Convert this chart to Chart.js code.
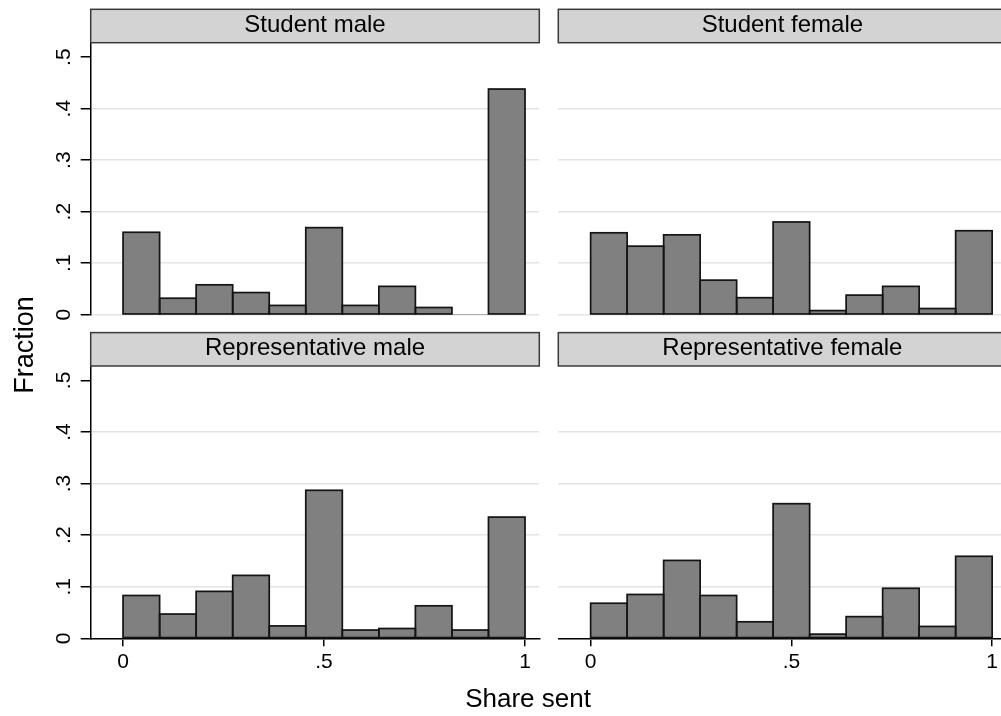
<!DOCTYPE html>
<html>
<head>
<meta charset="utf-8">
<script src="https://cdn.jsdelivr.net/npm/chart.js@4.4.1/dist/chart.umd.min.js"></script>
<style>
  body { margin: 0; background: #fff; }
  #wrap { position: relative; width: 1001px; height: 716px; overflow: hidden; background: #fff; }
  #wrap canvas { position: absolute; left: 0; top: 0; }
</style>
</head>
<body>
<div id="wrap">
  <canvas id="c1" width="1001" height="716"></canvas>
  <canvas id="c2" width="1001" height="716"></canvas>
  <canvas id="c3" width="1001" height="716"></canvas>
  <canvas id="c4" width="1001" height="716"></canvas>
</div>
<script>
// histogram bins (11 bins over 0..1), centers
const binCenters = [0.0455, 0.1364, 0.2273, 0.3182, 0.4091, 0.5000, 0.5909, 0.6818, 0.7727, 0.8636, 0.9545];

// fractions per bin
const studentMale   = [0.160, 0.032, 0.058, 0.043, 0.018, 0.169, 0.018, 0.055, 0.014, 0, 0.438];
const studentFemale = [0.159, 0.133, 0.155, 0.067, 0.033, 0.180, 0.008, 0.038, 0.055, 0.012, 0.163];
const repMale       = [0.083, 0.047, 0.091, 0.122, 0.024, 0.287, 0.016, 0.019, 0.063, 0.016, 0.235];
const repFemale     = [0.068, 0.085, 0.151, 0.083, 0.032, 0.261, 0.008, 0.042, 0.097, 0.023, 0.159];

const panelTitles = ['Student male', 'Student female', 'Representative male', 'Representative female'];
const yTicks = [0, 0.1, 0.2, 0.3, 0.4, 0.5];
const xTicks = [0, 0.5, 1];

const yMax = 0.528;
const xMin = -0.0805;
const xMax = 1.0355;      // full panel width
const xMaxCut = 1.022;    // right column is cut by the image edge

const FONT = '"Liberation Sans", Arial, Helvetica, sans-serif';
const STRIP_H = 33.4;

// Stata style labels: .5 instead of 0.5
function fmt(v) {
    return String(v).replace(/^0\./, '.');
}

const panelPlugin = {
    id: 'panel',
    afterDatasetsDraw(chart) {
        // bar outlines, centred on the bar edges like Stata
        const ctx = chart.ctx;
        const pts = chart.data.datasets[0].data;
        ctx.save();
        ctx.strokeStyle = '#141414';
        ctx.lineWidth = 1.7;
        chart.getDatasetMeta(0).data.forEach((bar, i) => {
            if (!pts[i].y) return;
            const p = bar.getProps(['x', 'y', 'base', 'width'], true);
            ctx.strokeRect(p.x - p.width / 2, p.y, p.width, p.base - p.y);
        });
        ctx.restore();
    },
    afterDraw(chart, args, opts) {
        const ctx = chart.ctx;
        const a = chart.chartArea;
        const xs = chart.scales.x;
        const ys = chart.scales.y;

        // strip with panel title
        ctx.save();
        const top = a.top - STRIP_H;
        const w = (a.right - a.left) + (opts.cut ? 10 : 0);
        ctx.fillStyle = '#d3d3d3';
        ctx.fillRect(a.left, top, w, STRIP_H);
        ctx.strokeStyle = '#3a3a3a';
        ctx.lineWidth = 1.5;
        ctx.strokeRect(a.left, top, w, STRIP_H);
        ctx.fillStyle = '#000';
        ctx.font = '24px ' + FONT;
        ctx.textAlign = 'center';
        ctx.textBaseline = 'alphabetic';
        ctx.fillText(opts.title, xs.getPixelForValue((xMin + xMax) / 2), a.top - 11);

        // rotated y tick labels
        if (opts.yLabels) {
            ctx.font = '21px ' + FONT;
            yTicks.forEach(v => {
                ctx.save();
                ctx.translate(70, ys.getPixelForValue(v));
                ctx.rotate(-Math.PI / 2);
                ctx.fillText(fmt(v), 0, 0);
                ctx.restore();
            });
        }

        // shared axis titles
        if (opts.axisTitles) {
            ctx.font = '26px ' + FONT;
            ctx.fillText('Share sent', 528, 707);
            ctx.font = '27px ' + FONT;
            ctx.save();
            ctx.translate(33, 345);
            ctx.rotate(-Math.PI / 2);
            ctx.fillText('Fraction', 0, 0);
            ctx.restore();
        }
        ctx.restore();
    }
};

function makeChart(id, values, cfg) {
    return new Chart(document.getElementById(id), {
        type: 'bar',
        data: {
            datasets: [{
                data: binCenters.map((c, i) => ({ x: c, y: values[i] })),
                backgroundColor: '#808080',
                borderWidth: 0,
                barPercentage: 1,
                categoryPercentage: 1
            }]
        },
        options: {
            responsive: false,
            animation: false,
            devicePixelRatio: 1,
            layout: { padding: cfg.padding },
            plugins: {
                legend: { display: false },
                tooltip: { enabled: false },
                panel: { title: cfg.title, yLabels: cfg.yAxis, cut: cfg.cut, axisTitles: cfg.axisTitles }
            },
            scales: {
                x: {
                    type: 'linear',
                    min: xMin,
                    max: cfg.cut ? xMaxCut : xMax,
                    offset: false,
                    display: cfg.xAxis,
                    afterBuildTicks: s => { s.ticks = xTicks.map(v => ({ value: v })); },
                    afterFit: s => { if (cfg.xAxis) s.height = 77.7; },
                    border: { display: true, color: '#000', width: 1.5 },
                    grid: { offset: false, drawOnChartArea: false, tickLength: 8, tickColor: '#000', lineWidth: 1.5 },
                    ticks: {
                        callback: v => fmt(v),
                        font: { family: FONT, size: 21 },
                        color: '#000',
                        padding: 3,
                        maxRotation: 0,
                        autoSkip: false
                    }
                },
                y: {
                    type: 'linear',
                    min: 0,
                    max: yMax,
                    afterBuildTicks: s => { s.ticks = yTicks.map(v => ({ value: v })); },
                    afterFit: s => { s.width = cfg.yAxis ? 10 : 0; },
                    border: { display: cfg.yAxis, color: '#000', width: 1.5 },
                    grid: {
                        color: c => (c.tick && c.tick.value === 0.5) ? 'rgba(0,0,0,0)' : '#e4e4e4',
                        lineWidth: 1.5,
                        tickLength: 10,
                        drawTicks: cfg.yAxis,
                        tickColor: '#000'
                    },
                    ticks: { display: false }
                }
            }
        },
        plugins: [panelPlugin]
    });
}

makeChart('c1', studentMale,   { title: panelTitles[0], yAxis: true,  xAxis: false, cut: false,
    padding: { left: 80.7, right: 461.7, top: 42.7, bottom: 401.3 } });
makeChart('c2', studentFemale, { title: panelTitles[1], yAxis: false, xAxis: false, cut: true,
    padding: { left: 558.3, right: 0, top: 42.7, bottom: 401.3 } });
makeChart('c3', repMale,       { title: panelTitles[2], yAxis: true,  xAxis: true,  cut: false,
    padding: { left: 80.7, right: 461.7, top: 366, bottom: 0 } });
makeChart('c4', repFemale,     { title: panelTitles[3], yAxis: false, xAxis: true,  cut: true, axisTitles: true,
    padding: { left: 558.3, right: 0, top: 366, bottom: 0 } });
</script>
</body>
</html>
